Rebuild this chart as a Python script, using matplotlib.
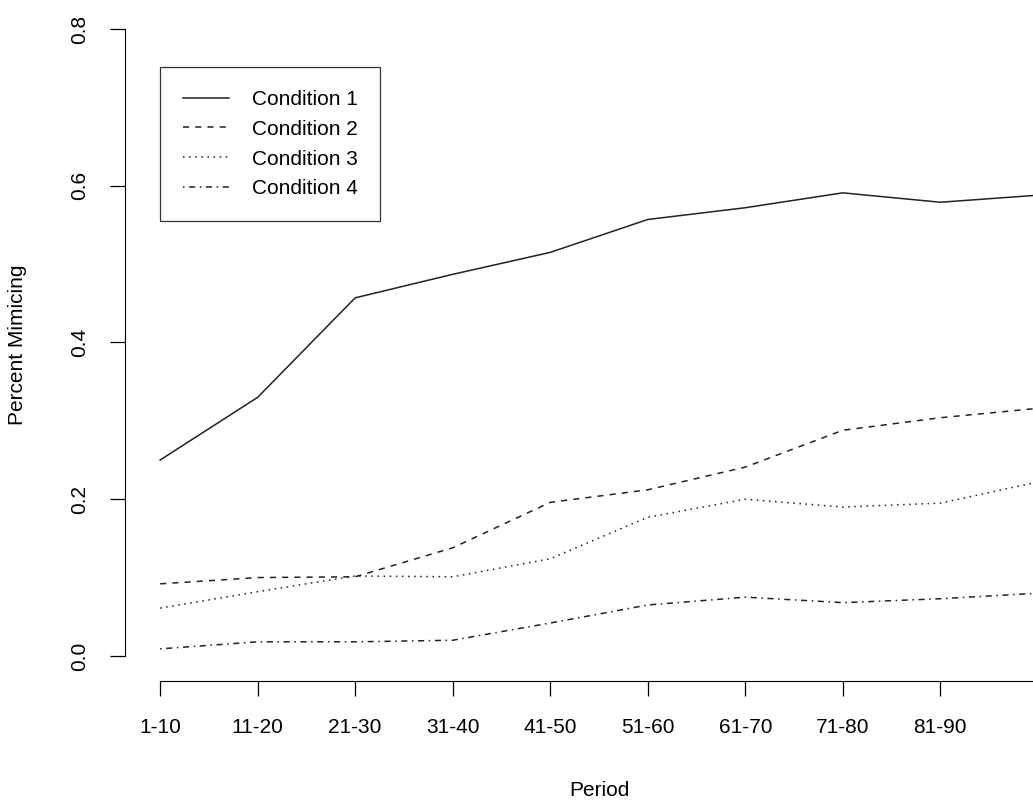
import numpy as np
import matplotlib.pyplot as plt

plt.rcParams['font.family'] = ['Liberation Sans', 'DejaVu Sans']

periods = ['1-10', '11-20', '21-30', '31-40', '41-50',
           '51-60', '61-70', '71-80', '81-90', '91-100']
cond1 = [0.250, 0.330, 0.457, 0.487, 0.515, 0.557, 0.572, 0.591, 0.579, 0.588]
cond2 = [0.092, 0.100, 0.101, 0.138, 0.196, 0.212, 0.241, 0.288, 0.304, 0.316]
cond3 = [0.061, 0.082, 0.102, 0.101, 0.124, 0.177, 0.200, 0.190, 0.195, 0.222]
cond4 = [0.009, 0.018, 0.018, 0.020, 0.042, 0.065, 0.075, 0.068, 0.073, 0.080]
labels = ['Condition 1', 'Condition 2', 'Condition 3', 'Condition 4']

W, H = 1033, 806
fig = plt.figure(figsize=(W / 100, H / 100), dpi=100)
# plot region runs past the right edge, like the cropped original
ax = fig.add_axes([125 / W, (H - 681) / H, (1073 - 125) / W, (681 - 4) / H])

x = np.arange(1, len(periods) + 1)
styles = ['-', (0, (4, 4)), (0, (1, 3)), (0, (1, 3, 4, 3))]
for vals, ls, lab in zip([cond1, cond2, cond3, cond4], styles, labels):
    ax.plot(x, vals, color='#222222', lw=1.1, linestyle=ls, label=lab)

ax.set_xlim(0.64, 10.36)
ax.set_ylim(-0.032, 0.832)

for s in ['top', 'right']:
    ax.spines[s].set_visible(False)
ax.spines['bottom'].set_bounds(1, 10)
ax.spines['left'].set_bounds(0, 0.8)

ax.set_xticks(x)
ax.set_xticklabels(periods)
ax.get_xticklabels()[-1].set_visible(False)
ax.set_yticks([0, 0.2, 0.4, 0.6, 0.8])
ax.set_yticklabels(['0.0', '0.2', '0.4', '0.6', '0.8'], rotation=90, va='center')
ax.tick_params(axis='both', direction='out', length=10.5, width=0.9,
               labelsize=15, pad=15)
ax.tick_params(axis='x', pad=16)

fig.text(18 / W, 1 - 345 / H, 'Percent Mimicing', rotation=90,
         ha='center', va='center', fontsize=15)
fig.text(599 / W, 1 - 790 / H, 'Period', ha='center', va='center', fontsize=15)

leg = ax.legend(loc='upper left', bbox_to_anchor=(160 / W, 1 - 67 / H),
                bbox_transform=fig.transFigure, borderaxespad=0,
                fancybox=False, edgecolor='black', fontsize=15,
                handlelength=2.2, handletextpad=1.1, borderpad=1.1,
                labelspacing=0.52)
leg.get_frame().set_linewidth(0.9)

fig.savefig('out.png', dpi=100)
